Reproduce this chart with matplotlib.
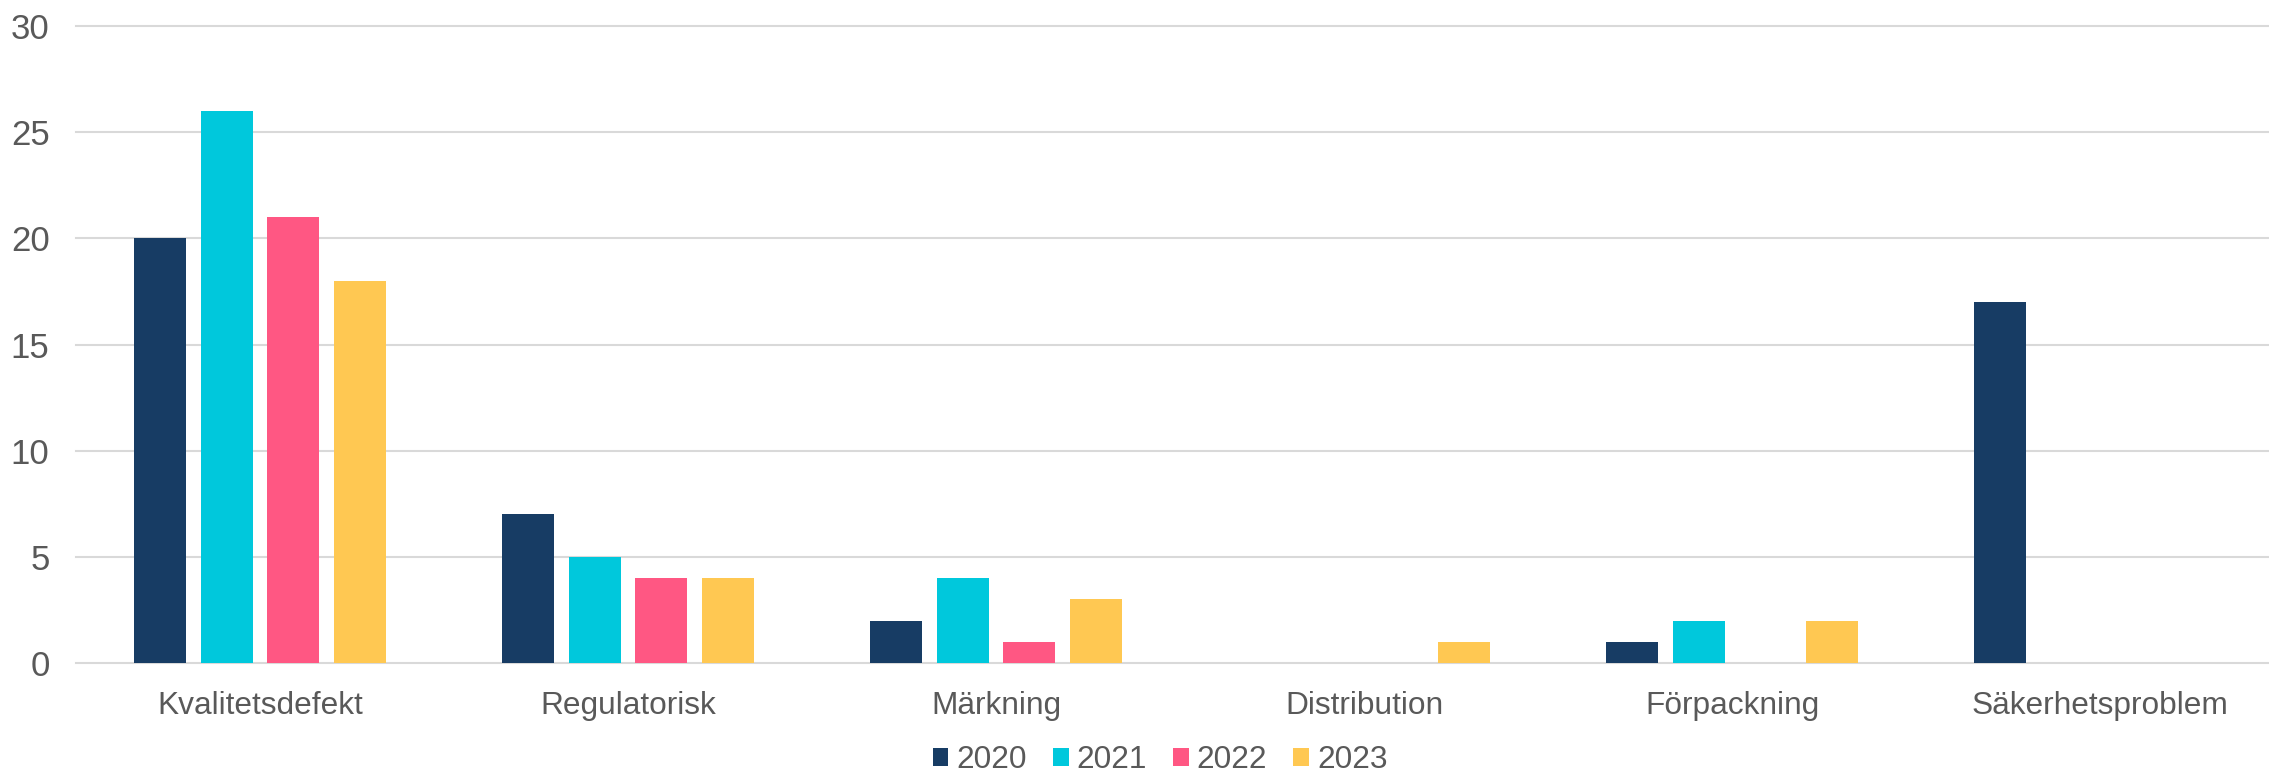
import matplotlib
matplotlib.use("Agg")
import matplotlib.pyplot as plt
import numpy as np

categories = ["Kvalitetsdefekt", "Regulatorisk", "Märkning", "Distribution", "Förpackning", "Säkerhetsproblem"]
years = ["2020", "2021", "2022", "2023"]
v2020 = [20, 7, 2, 0, 1, 17]
v2021 = [26, 5, 4, 0, 2, 0]
v2022 = [21, 4, 1, 0, 0, 0]
v2023 = [18, 4, 3, 1, 2, 0]
series = [v2020, v2021, v2022, v2023]
colors = ["#173C64", "#00C8DC", "#FF5783", "#FFC852"]

plt.rcParams['font.family'] = ['Liberation Sans', 'DejaVu Sans']
W, H = 2269, 775
fig = plt.figure(figsize=(W / 100, H / 100), dpi=100)
left = 76 / W
bottom = 1 - 663 / H
top = 1 - 26 / H
ax = fig.add_axes([left, bottom, 1 - left, top - bottom])

x = np.arange(len(categories))
step = 66.6 / 368
width = 52.3 / 368
for j, (vals, c, yr) in enumerate(zip(series, colors, years)):
    ax.bar(x + (j - 1.5) * step, vals, width, color=c, label=yr, zorder=3)

ax.set_ylim(0, 30)
ax.set_xlim(-0.5, -0.5 + (W - 76) / 368)
ax.set_yticks(range(0, 31, 5))
ax.set_xticks(x)
ax.set_xticklabels(categories)
ax.grid(axis='y', color='#D9D9D9', linewidth=1.5, zorder=0)
for gl in ax.get_ygridlines():
    gl.set_clip_on(False)
for s in ax.spines.values():
    s.set_visible(False)
ax.tick_params(axis='both', length=0, labelcolor='#595959')
ax.tick_params(axis='x', labelsize=22.8, pad=20)
ax.tick_params(axis='y', labelsize=25, pad=19)

fig.legend(loc='center', bbox_to_anchor=(1160 / W, 1 - 760 / H), ncol=4, frameon=False,
           fontsize=22.8, labelcolor='#595959', handlelength=0.5, handleheight=0.5,
           handletextpad=0.25, columnspacing=0.82, borderpad=0, borderaxespad=0)

fig.savefig("out.png", dpi=100)
